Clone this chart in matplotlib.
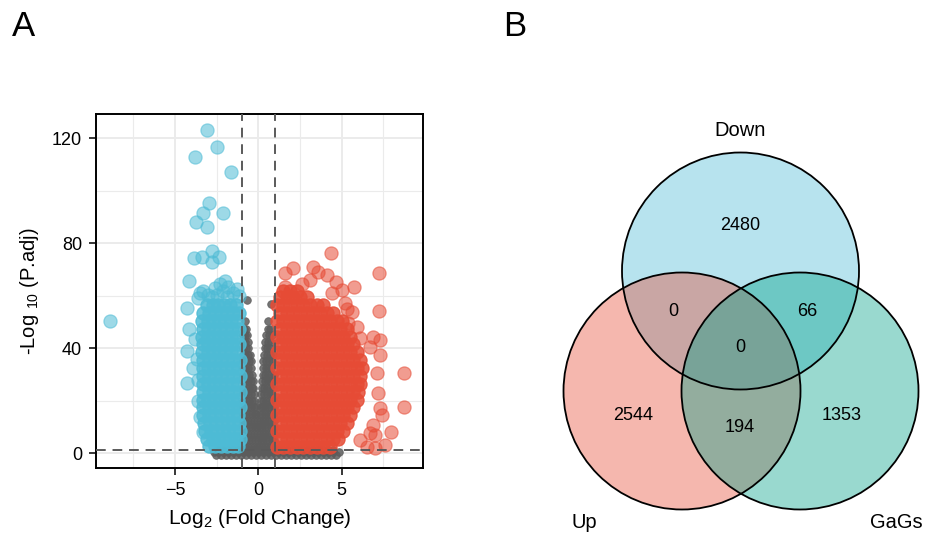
import matplotlib
matplotlib.use("Agg")
import matplotlib.pyplot as plt
from matplotlib.patches import Circle

plt.rcParams['font.family'] = ['Liberation Sans', 'DejaVu Sans']
plt.rcParams['mathtext.fontset'] = 'custom'
plt.rcParams['mathtext.rm'] = 'Liberation Sans'
plt.rcParams['mathtext.it'] = 'Liberation Sans:italic'

# ---------------- data: volcano plot (log2FC, -log10 padj) ----------------
# isolated down-regulated points
down_x = [-8.9, -3.1, -2.5, -3.8, -1.65, -2.96, -3.3, -2.1, -3.74, -3.1,
          -3.84, -3.4, -2.76, -2.34, -2.8, -4.16, -3.5, -4.26, -4.16, -4.3,
          -3.9, -4.26, -3.3, -3.0, -2.6, -2.3, -2.1, -1.8, -1.5, -1.3, -2.0,
          -3.6, -2.8, -1.15, -3.8, -3.7, -3.65, -3.6, -3.5, -3.3, -2.5, -1.9]
down_y = [50.5, 123.2, 116.8, 113.0, 107.3, 95.2, 91.4, 91.4, 88.0, 86.3,
          74.3, 74.9, 77.2, 74.9, 73.0, 65.6, 61.2, 55.5, 47.3, 39.0,
          32.6, 26.9, 62.0, 60.5, 63.0, 64.5, 62.0, 63.5, 61.0, 62.5, 65.5,
          59.0, 59.5, 60.0, 43.5, 36.0, 28.0, 20.0, 14.0, 8.0, 60.5, 59.5]
# dense down-regulated body (rows of -log10 padj, log2FC values)
down_rows = [
    (2.8,  [-2.95, -2.6, -2.25, -1.9, -1.55, -1.2]),
    (5.5,  [-3.1, -2.75, -2.4, -2.05, -1.7, -1.35, -1.08]),
    (8.5,  [-3.2, -2.85, -2.5, -2.15, -1.8, -1.45, -1.1]),
    (11.5, [-3.25, -2.9, -2.55, -2.2, -1.85, -1.5, -1.15]),
    (14.5, [-3.3, -2.95, -2.6, -2.25, -1.9, -1.55, -1.2]),
    (17.5, [-3.3, -2.95, -2.6, -2.25, -1.9, -1.55, -1.1]),
    (20.5, [-3.35, -3.0, -2.65, -2.3, -1.95, -1.6, -1.25]),
    (23.5, [-3.3, -2.95, -2.6, -2.25, -1.9, -1.55, -1.1]),
    (26.5, [-3.35, -3.0, -2.65, -2.3, -1.95, -1.6, -1.25]),
    (29.5, [-3.3, -2.95, -2.6, -2.25, -1.9, -1.55, -1.1]),
    (32.5, [-3.35, -3.0, -2.65, -2.3, -1.95, -1.6, -1.25]),
    (35.5, [-3.3, -2.95, -2.6, -2.25, -1.9, -1.55, -1.1]),
    (38.5, [-3.4, -3.05, -2.7, -2.35, -2.0, -1.65, -1.3]),
    (41.5, [-3.35, -3.0, -2.65, -2.3, -1.95, -1.6, -1.15]),
    (44.5, [-3.4, -3.05, -2.7, -2.35, -2.0, -1.65, -1.3]),
    (47.5, [-3.35, -3.0, -2.65, -2.3, -1.95, -1.6, -1.15]),
    (50.5, [-3.4, -3.05, -2.7, -2.35, -2.0, -1.65, -1.3]),
    (53.5, [-3.3, -2.95, -2.6, -2.25, -1.9, -1.55, -1.15]),
    (56.5, [-3.1, -2.75, -2.4, -2.05, -1.7, -1.35]),
]

# isolated up-regulated points
up_x = [4.36, 2.1, 1.6, 3.3, 3.6, 4.1, 4.66, 5.0, 5.76, 5.2, 7.24, 7.24, 5.6,
        5.9, 6.9, 7.3, 1.6, 3.1, 8.76, 8.76, 7.94, 7.3, 7.4, 7.1, 7.3, 7.0,
        7.6, 6.7, 6.5, 7.0, 6.1, 7.2, 6.9, 5.4, 6.1, 6.7, 2.6, 4.4, 5.3]
up_y = [76.4, 70.5, 68.8, 70.9, 69.2, 67.9, 65.4, 62.2, 63.5, 57.1, 68.6, 54.3, 53.9,
        48.2, 44.4, 43.2, 63.5, 66.0, 30.7, 17.8, 8.2, 17.1, 14.6, 30.5, 37.4, 7.0,
        3.2, 7.7, 2.5, 2.0, 5.1, 22.9, 10.8, 49.5, 43.8, 40.6, 64.5, 61.0, 55.0]
# dense up-regulated body (rows of -log10 padj, log2FC values)
up_rows = [
    (2.5,  [1.1, 1.5, 1.9, 2.3, 2.7, 3.1, 3.5, 3.9, 4.3]),
    (5.5,  [1.3, 1.7, 2.1, 2.5, 2.9, 3.3, 3.7, 4.1, 4.5, 4.8]),
    (8.5,  [1.1, 1.5, 1.9, 2.3, 2.7, 3.1, 3.5, 3.9, 4.3, 4.7, 5.1]),
    (11.5, [1.3, 1.7, 2.1, 2.5, 2.9, 3.3, 3.7, 4.1, 4.5, 4.9, 5.3]),
    (14.5, [1.1, 1.5, 1.9, 2.3, 2.7, 3.1, 3.5, 3.9, 4.3, 4.7, 5.1, 5.5]),
    (17.5, [1.3, 1.7, 2.1, 2.5, 2.9, 3.3, 3.7, 4.1, 4.5, 4.9, 5.3, 5.7]),
    (20.5, [1.1, 1.5, 1.9, 2.3, 2.7, 3.1, 3.5, 3.9, 4.3, 4.7, 5.1, 5.5, 5.9]),
    (23.5, [1.3, 1.7, 2.1, 2.5, 2.9, 3.3, 3.7, 4.1, 4.5, 4.9, 5.3, 5.7, 6.0]),
    (26.5, [1.1, 1.5, 1.9, 2.3, 2.7, 3.1, 3.5, 3.9, 4.3, 4.7, 5.1, 5.5, 5.9, 6.1]),
    (29.5, [1.3, 1.7, 2.1, 2.5, 2.9, 3.3, 3.7, 4.1, 4.5, 4.9, 5.3, 5.7, 6.1]),
    (32.5, [1.1, 1.5, 1.9, 2.3, 2.7, 3.1, 3.5, 3.9, 4.3, 4.7, 5.1, 5.5, 5.9, 6.2]),
    (35.5, [1.3, 1.7, 2.1, 2.5, 2.9, 3.3, 3.7, 4.1, 4.5, 4.9, 5.3, 5.7, 6.1]),
    (38.5, [1.1, 1.5, 1.9, 2.3, 2.7, 3.1, 3.5, 3.9, 4.3, 4.7, 5.1, 5.5, 5.9]),
    (41.5, [1.3, 1.7, 2.1, 2.5, 2.9, 3.3, 3.7, 4.1, 4.5, 4.9, 5.3, 5.7]),
    (44.5, [1.1, 1.5, 1.9, 2.3, 2.7, 3.1, 3.5, 3.9, 4.3, 4.7, 5.1, 5.5]),
    (47.5, [1.3, 1.7, 2.1, 2.5, 2.9, 3.3, 3.7, 4.1, 4.5, 4.9, 5.3]),
    (50.5, [1.1, 1.5, 1.9, 2.3, 2.7, 3.1, 3.5, 3.9, 4.3, 4.7, 5.0]),
    (53.5, [1.3, 1.7, 2.1, 2.5, 2.9, 3.3, 3.7, 4.1, 4.5]),
    (56.5, [1.1, 1.5, 1.9, 2.3, 2.7, 3.1, 3.5, 3.9]),
    (59.5, [1.3, 1.7, 2.1, 2.5, 2.9]),
    (62.0, [1.5, 1.9, 2.3]),
]

# not significant (rows of -log10 padj, log2FC values)
ns_rows = [
    (-0.8, [-2.55, -2.25, -1.95, -1.65, -1.35, -1.05, -0.75, -0.45, -0.15, 0.15, 0.45, 0.75,
            1.05, 1.35, 1.65, 1.95, 2.25, 2.55, 2.85, 3.15, 3.45, 3.75, 4.05, 4.35, 4.65]),
    (0.4,  [-2.65, -2.4, -2.1, -1.8, -1.5, -1.2, -0.9, -0.6, -0.3, 0.0, 0.3, 0.6, 0.9,
            1.2, 1.5, 1.8, 2.1, 2.4, 2.7, 3.0, 3.3, 3.6, 3.9, 4.2, 4.5, 4.85]),
    (1.3,  [-2.4, -2.1, -1.8, -1.5, -1.2, -0.9, -0.6, -0.3, 0.0, 0.3, 0.6, 0.9,
            1.2, 1.5, 1.8, 2.1, 2.4, 2.7, 3.0, 3.3, 3.6, 3.9, 4.2, 4.5]),
    (2.5,  [-0.95, -0.78, -0.61, -0.44, -0.27, -0.1, 0.05, 0.2, 0.37, 0.54, 0.71, 0.88]),
    (5.0,  [-0.9, -0.72, -0.55, -0.38, -0.2, -0.03, 0.13, 0.3, 0.47, 0.64, 0.81, 0.96]),
    (7.5,  [-0.95, -0.78, -0.6, -0.42, -0.25, -0.08, 0.08, 0.25, 0.42, 0.6, 0.78, 0.95]),
    (10.0, [-0.9, -0.72, -0.55, -0.38, -0.2, -0.07, 0.07, 0.22, 0.4, 0.58, 0.75, 0.92]),
    (12.5, [-0.95, -0.78, -0.6, -0.42, -0.25, -0.1, 0.1, 0.25, 0.42, 0.6, 0.78, 0.95]),
    (15.0, [-0.9, -0.72, -0.55, -0.38, -0.22, -0.12, 0.12, 0.22, 0.38, 0.55, 0.72, 0.9]),
    (17.5, [-0.95, -0.78, -0.6, -0.43, -0.27, -0.15, 0.13, 0.25, 0.42, 0.6, 0.78, 0.95]),
    (20.0, [-0.9, -0.73, -0.56, -0.4, -0.25, 0.16, 0.3, 0.47, 0.64, 0.8, 0.95]),
    (22.5, [-0.95, -0.78, -0.6, -0.44, -0.28, 0.18, 0.33, 0.5, 0.67, 0.84]),
    (25.0, [-0.9, -0.73, -0.56, -0.4, -0.3, 0.2, 0.35, 0.52, 0.7, 0.88]),
    (27.5, [-0.95, -0.78, -0.61, -0.45, -0.33, 0.22, 0.37, 0.55, 0.72, 0.9]),
    (30.0, [-0.9, -0.73, -0.56, -0.4, 0.25, 0.4, 0.57, 0.75, 0.93]),
    (32.5, [-0.95, -0.78, -0.61, -0.45, 0.28, 0.43, 0.6, 0.78]),
    (35.0, [-0.9, -0.74, -0.58, -0.47, 0.3, 0.46, 0.63, 0.82]),
    (37.5, [-0.95, -0.78, -0.62, -0.5, 0.34, 0.5, 0.67, 0.85]),
    (40.0, [-0.9, -0.75, -0.6, 0.38, 0.53, 0.7]),
    (42.5, [-0.95, -0.8, -0.65, 0.42, 0.57, 0.75]),
    (45.0, [-0.92, -0.78, -0.66, 0.48, 0.62, 0.8]),
    (47.5, [-0.88, -0.74, 0.55, 0.7]),
    (50.5, [-0.82, 0.6]),
    (57.0, [0.76]),
    (58.4, [-0.7]),
]

fc_cut = 1.0
padj_cut = 1.3  # -log10(0.05)

x_ticks = [-5, 0, 5]
y_ticks = [0, 40, 80, 120]

# ---------------- data: Venn diagram ----------------
venn_sets = ['Down', 'Up', 'GaGs']
venn_counts = {'Down': 2480, 'Up': 2544, 'GaGs': 1353,
               'Down&Up': 0, 'Down&GaGs': 66, 'Up&GaGs': 194, 'Down&Up&GaGs': 0}
venn_colors = {'Down': '#4DBBD5', 'Up': '#E64B35', 'GaGs': '#00A087'}


def flatten(rows):
    xs, ys = [], []
    for y, row in rows:
        for x in row:
            xs.append(x)
            ys.append(y)
    return xs, ys


W, H = 925, 538
fig = plt.figure(figsize=(W / 100, H / 100), dpi=100)

# ---------------- panel A ----------------
ax = fig.add_axes([96 / W, 1 - 468 / H, 327 / W, 354 / H])
ax.set_xlim(-9.75, 9.88)
ax.set_ylim(-5.6, 129.3)
ax.set_xticks(x_ticks)
ax.set_yticks(y_ticks)
ax.set_xticks([-7.5, -2.5, 2.5, 7.5], minor=True)
ax.set_yticks([20, 60, 100], minor=True)
ax.grid(True, which='major', color='#ebebeb', lw=1.4, zorder=0)
ax.grid(True, which='minor', color='#ebebeb', lw=0.8, zorder=0)
ax.set_axisbelow(True)
ax.tick_params(which='minor', length=0)
ax.tick_params(which='major', length=5, width=1.1, labelsize=13, color='black', pad=5)
for s in ax.spines.values():
    s.set_linewidth(1.4)

grey = '#5c5c5c'
nx, ny = flatten(ns_rows)
ax.scatter(nx, ny, s=30, color=grey, alpha=0.85, linewidths=0.6, zorder=2)
bx, by = flatten(down_rows)
ax.scatter(bx, by, s=90, color='#4DBBD5', alpha=0.85, linewidths=0.9, zorder=3)
ax.scatter(down_x, down_y, s=90, color='#4DBBD5', alpha=0.55, linewidths=0.9, zorder=3)
rx, ry = flatten(up_rows)
ax.scatter(rx, ry, s=90, color='#E64B35', alpha=0.85, linewidths=0.9, zorder=3)
ax.scatter(up_x, up_y, s=90, color='#E64B35', alpha=0.55, linewidths=0.9, zorder=3)

dash = dict(color='#5a5a5a', lw=1.4, ls=(0, (5, 3.5)), zorder=4)
ax.axvline(-fc_cut, **dash)
ax.axvline(fc_cut, **dash)
ax.axhline(padj_cut, **dash)

ax.set_xlabel(r'Log$_\mathregular{2}$ (Fold Change)', fontsize=15, labelpad=6)
ax.set_ylabel(r'-Log $_\mathregular{10}$ (P.adj)', fontsize=14.5, labelpad=8)

fig.text(24 / W, 1 - 27 / H, 'A', fontsize=25, ha='center', va='center')
fig.text(515 / W, 1 - 27 / H, 'B', fontsize=25, ha='center', va='center')

# ---------------- panel B: Venn ----------------
vax = fig.add_axes([0, 0, 1, 1])
vax.set_xlim(0, W)
vax.set_ylim(H, 0)
vax.axis('off')

r = 118.5
centers = {'Down': (740.5, 271.0), 'Up': (682.0, 391.0), 'GaGs': (800.0, 391.0)}
for name in venn_sets:
    vax.add_patch(Circle(centers[name], r, facecolor=venn_colors[name], alpha=0.4,
                         edgecolor='none', zorder=1))
for name in venn_sets:
    vax.add_patch(Circle(centers[name], r, facecolor='none', edgecolor='black',
                         lw=1.3, zorder=2))

label_pos = {'Down': (740, 131), 'Up': (584, 522), 'GaGs': (896, 522)}
for name in venn_sets:
    vax.text(*label_pos[name], name, fontsize=14.5, ha='center', va='center', zorder=3)

count_pos = {'Down': (740, 226), 'Up': (633, 415), 'GaGs': (842, 415),
             'Down&Up': (673, 311), 'Down&GaGs': (807, 311), 'Up&GaGs': (740, 428),
             'Down&Up&GaGs': (740, 348)}
for key, val in venn_counts.items():
    vax.text(*count_pos[key], str(val), fontsize=13, ha='center', va='center', zorder=3)

fig.savefig('out.png', dpi=100)
